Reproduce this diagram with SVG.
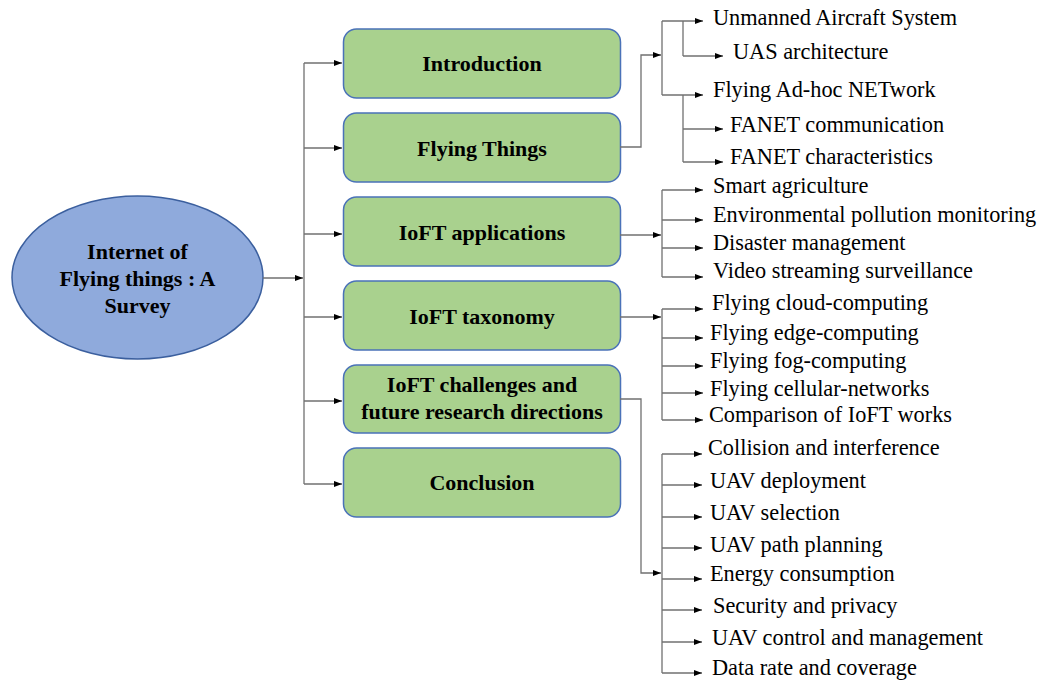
<svg xmlns="http://www.w3.org/2000/svg" width="1039" height="680" viewBox="0 0 1039 680">
<defs>
<marker id="ah" markerUnits="userSpaceOnUse" markerWidth="9" markerHeight="7" refX="8" refY="3" orient="auto">
<path d="M0,0 L8,3 L0,6 z" fill="#000"/>
</marker>
<style>
.ln{fill:none;stroke:#707070;stroke-width:1.3}
.ar{marker-end:url(#ah)}
.box{fill:#a9d18e;stroke:#4a72b8;stroke-width:1.5}
.bt{font-family:"Liberation Serif","Times New Roman",serif;font-weight:bold;font-size:22px;fill:#000;text-anchor:middle}
.it{font-family:"Liberation Serif","Times New Roman",serif;font-size:22.3px;fill:#000}
</style>
</defs>
<rect width="1039" height="680" fill="#fff"/>

<g id="root">
<ellipse cx="137.5" cy="277.5" rx="125.5" ry="81.5" fill="#8faadc" stroke="#3b5f9e" stroke-width="1.5"/>
<text class="bt" x="137.5" y="259">Internet of</text>
<text class="bt" x="137.5" y="286">Flying things : A</text>
<text class="bt" x="137.5" y="313">Survey</text>
</g>

<g id="n-intro"><rect class="box" x="343.5" y="29" width="277" height="69" rx="13"/><text class="bt" x="482" y="71">Introduction</text></g>
<g id="n-flying"><rect class="box" x="343.5" y="113" width="277" height="69" rx="13"/><text class="bt" x="482" y="156">Flying Things</text></g>
<g id="n-apps"><rect class="box" x="343.5" y="197" width="277" height="69" rx="13"/><text class="bt" x="482" y="240">IoFT applications</text></g>
<g id="n-tax"><rect class="box" x="343.5" y="281" width="277" height="69" rx="13"/><text class="bt" x="482" y="324">IoFT taxonomy</text></g>
<g id="n-chal"><rect class="box" x="343.5" y="365" width="277" height="68" rx="13"/><text class="bt" x="482" y="392">IoFT challenges and</text><text class="bt" x="482" y="419">future research directions</text></g>
<g id="n-concl"><rect class="box" x="343.5" y="448" width="277" height="69" rx="13"/><text class="bt" x="482" y="490">Conclusion</text></g>

<g id="connectors">
<path class="ln ar" d="M263,278 H303"/>
<path class="ln" d="M304,63 V484"/>
<path class="ln ar" d="M304,63 H342"/>
<path class="ln ar" d="M304,148 H342"/>
<path class="ln ar" d="M304,234 H342"/>
<path class="ln ar" d="M304,317 H342"/>
<path class="ln ar" d="M304,401 H342"/>
<path class="ln ar" d="M304,484 H342"/>

<path class="ln ar" d="M620,147 H641 V55 H661"/>
<path class="ln" d="M662,21 V95"/>
<path class="ln ar" d="M662,21 H703"/>
<path class="ln ar" d="M662,95 H703"/>
<path class="ln" d="M683,21 V56"/>
<path class="ln ar" d="M683,56 H723"/>
<path class="ln" d="M683,95 V162"/>
<path class="ln ar" d="M683,129 H723"/>
<path class="ln ar" d="M683,162 H723"/>

<path class="ln ar" d="M620,235 H661"/>
<path class="ln" d="M662,190 V277"/>
<path class="ln ar" d="M662,190 H703"/>
<path class="ln ar" d="M662,220 H703"/>
<path class="ln ar" d="M662,248 H703"/>
<path class="ln ar" d="M662,277 H703"/>

<path class="ln ar" d="M620,317 H661"/>
<path class="ln" d="M662,309 V420"/>
<path class="ln ar" d="M662,309 H703"/>
<path class="ln ar" d="M662,338 H703"/>
<path class="ln ar" d="M662,366 H703"/>
<path class="ln ar" d="M662,393 H703"/>
<path class="ln ar" d="M662,420 H703"/>

<path class="ln ar" d="M620,399 H641 V573 H661"/>
<path class="ln" d="M662,454 V673"/>
<path class="ln ar" d="M662,454 H702"/>
<path class="ln ar" d="M662,485 H702"/>
<path class="ln ar" d="M662,517 H702"/>
<path class="ln ar" d="M662,548 H702"/>
<path class="ln ar" d="M662,579 H702"/>
<path class="ln ar" d="M662,610 H702"/>
<path class="ln ar" d="M662,642 H702"/>
<path class="ln ar" d="M662,673 H702"/>
</g>

<g id="leaves-flying">
<text class="it" x="713" y="25">Unmanned Aircraft System</text>
<text class="it" x="733" y="59">UAS architecture</text>
<text class="it" x="713" y="97">Flying Ad-hoc NETwork</text>
<text class="it" x="730" y="132">FANET communication</text>
<text class="it" x="730" y="164">FANET characteristics</text>
</g>
<g id="leaves-apps">
<text class="it" x="713" y="193">Smart agriculture</text>
<text class="it" x="713" y="222">Environmental pollution monitoring</text>
<text class="it" x="713" y="250">Disaster management</text>
<text class="it" x="713" y="278">Video streaming surveillance</text>
</g>
<g id="leaves-tax">
<text class="it" x="712" y="310">Flying cloud-computing</text>
<text class="it" x="710" y="340">Flying edge-computing</text>
<text class="it" x="710" y="368">Flying fog-computing</text>
<text class="it" x="710" y="396">Flying cellular-networks</text>
<text class="it" x="709" y="422">Comparison of IoFT works</text>
</g>
<g id="leaves-chal">
<text class="it" x="708" y="455">Collision and interference</text>
<text class="it" x="710" y="488">UAV deployment</text>
<text class="it" x="710" y="520">UAV selection</text>
<text class="it" x="710" y="552">UAV path planning</text>
<text class="it" x="710" y="581">Energy consumption</text>
<text class="it" x="713" y="613">Security and privacy</text>
<text class="it" x="712" y="645">UAV control and management</text>
<text class="it" x="712" y="675">Data rate and coverage</text>
</g>
</svg>
